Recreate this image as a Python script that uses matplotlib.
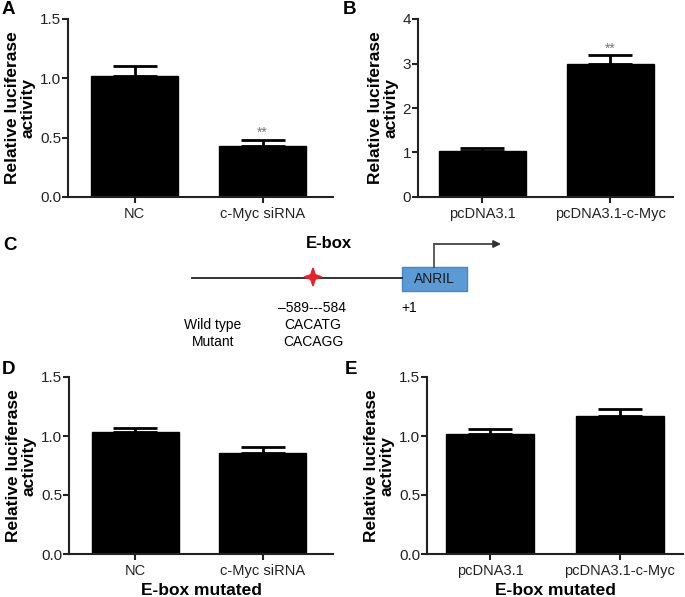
import matplotlib
matplotlib.use("Agg")
import matplotlib.pyplot as plt
from matplotlib.patches import Rectangle, FancyArrowPatch, PathPatch
from matplotlib.path import Path
import numpy as np

plt.rcParams['font.family'] = ['Liberation Sans', 'DejaVu Sans']

# ---- data ----
cats_A = ["NC", "c-Myc siRNA"]
vals_A = [1.02, 0.43]
err_A = [0.08, 0.05]
sig_A = ["", "**"]

cats_B = ["pcDNA3.1", "pcDNA3.1-c-Myc"]
vals_B = [1.03, 2.99]
err_B = [0.08, 0.19]
sig_B = ["", "**"]

cats_D = ["NC", "c-Myc siRNA"]
vals_D = [1.03, 0.86]
err_D = [0.04, 0.05]

cats_E = ["pcDNA3.1", "pcDNA3.1-c-Myc"]
vals_E = [1.02, 1.17]
err_E = [0.04, 0.06]

ticks_A = [0.0, 0.5, 1.0, 1.5]
ticks_B = [0, 1, 2, 3, 4]

W, H = 685, 597
fig = plt.figure(figsize=(W / 100, H / 100), dpi=100)


def ax_at(l, r, t, b):
    return fig.add_axes([l / W, (H - b) / H, (r - l) / W, (b - t) / H])


def bar_panel(ax, cats, vals, errs, ticks, fmt, xl, xr, sig=None, xlabel=None):
    x = np.arange(len(cats))
    ax.bar(x, vals, width=0.68, color='black', edgecolor='black', zorder=2)
    ax.errorbar(x, vals, yerr=[np.zeros(len(vals)), errs], fmt='none',
                ecolor='black', elinewidth=2, capsize=16, capthick=2, zorder=1)
    ax.set_xlim(xl, xr)
    ax.set_ylim(ticks[0], ticks[-1])
    ax.set_yticks(ticks)
    ax.set_yticklabels([fmt.format(t) for t in ticks])
    ax.set_xticks(x)
    ax.set_xticklabels(cats)
    for s in ['top', 'right']:
        ax.spines[s].set_visible(False)
    for s in ['left', 'bottom']:
        ax.spines[s].set_linewidth(1.5)
        ax.spines[s].set_color('#222222')
    ax.tick_params(axis='both', direction='out', length=4, width=1.5,
                   labelsize=10.5, colors='#222222')
    ax.tick_params(axis='y', pad=1, labelsize=11)
    ax.tick_params(axis='x', pad=3)
    ax.set_ylabel("Relative luciferase\nactivity", fontsize=12.5,
                  fontweight='bold', labelpad=3, linespacing=1.05)
    if sig:
        for xi, v, e, s in zip(x, vals, errs, sig):
            if s:
                ax.text(xi, v + e, s, ha='center', va='bottom', fontsize=10,
                        color='#777777')
    if xlabel:
        ax.set_xlabel(xlabel, fontsize=12.5, fontweight='bold', labelpad=3.5)


axA = ax_at(68, 333, 19, 197)
bar_panel(axA, cats_A, vals_A, err_A, ticks_A, "{:.1f}", -0.52, 1.55, sig=sig_A)
axB = ax_at(418, 673, 19, 197)
bar_panel(axB, cats_B, vals_B, err_B, ticks_B, "{:d}", -0.50, 1.49, sig=sig_B)
axD = ax_at(69, 333, 377, 554)
bar_panel(axD, cats_D, vals_D, err_D, ticks_A, "{:.1f}", -0.52, 1.55,
          xlabel="E-box mutated")
axE = ax_at(427, 683, 377, 554)
bar_panel(axE, cats_E, vals_E, err_E, ticks_A, "{:.1f}", -0.49, 1.49,
          xlabel="E-box mutated")

# ---- overlay for labels and schematic (pixel coords) ----
ov = fig.add_axes([0, 0, 1, 1], zorder=-1)
ov.set_xlim(0, W)
ov.set_ylim(H, 0)
ov.axis('off')

for lab, (px, py) in {"A": (2, 9), "B": (343, 9), "C": (3, 245),
                      "D": (2, 369), "E": (345, 369)}.items():
    ov.text(px, py, lab, fontsize=13.5, fontweight='bold', ha='left', va='center')

# gene line
ov.plot([192, 402], [278, 278], color='#222222', lw=1.3)
# star (4-pointed)
cx, cy = 313, 277
Rx, Ry, r = 9, 9, 3.2
pts = []
for k in range(8):
    ang = np.pi / 2 + k * np.pi / 4
    if k % 2 == 0:
        pts.append((cx + Rx * np.cos(ang), cy - Ry * np.sin(ang)))
    else:
        pts.append((cx + r * np.cos(ang), cy - r * np.sin(ang)))
pts.append(pts[0])
codes = [Path.MOVETO] + [Path.LINETO] * 7 + [Path.CLOSEPOLY]
ov.add_patch(PathPatch(Path(pts, codes), facecolor='#e8202a', edgecolor='#e8202a',
                       lw=1, zorder=3))
# ANRIL box
ov.add_patch(Rectangle((402, 267), 65, 24, facecolor='#5b9bd5', edgecolor='#4a86be', lw=1))
ov.text(434.5, 279, "ANRIL", ha='center', va='center', fontsize=10, color='#1a1a1a')
# arrow
ov.plot([434, 434], [267, 244], color='#444444', lw=1.2)
ov.add_patch(FancyArrowPatch((434, 244), (501, 244), arrowstyle='-|>', mutation_scale=11,
                             color='#333333', lw=1.2, shrinkA=0, shrinkB=0))
ov.text(329, 244, "E-box", ha='center', va='center', fontsize=12, fontweight='bold')
ov.text(312, 308, "\u2013589---584", ha='center', va='center', fontsize=10)
ov.text(409, 308, "+1", ha='center', va='center', fontsize=10)
ov.text(213, 325, "Wild type", ha='center', va='center', fontsize=10)
ov.text(313, 325, "CACATG", ha='center', va='center', fontsize=10)
ov.text(213, 342, "Mutant", ha='center', va='center', fontsize=10)
ov.text(313, 342, "CACAGG", ha='center', va='center', fontsize=10)

fig.savefig("out.png", dpi=100)
